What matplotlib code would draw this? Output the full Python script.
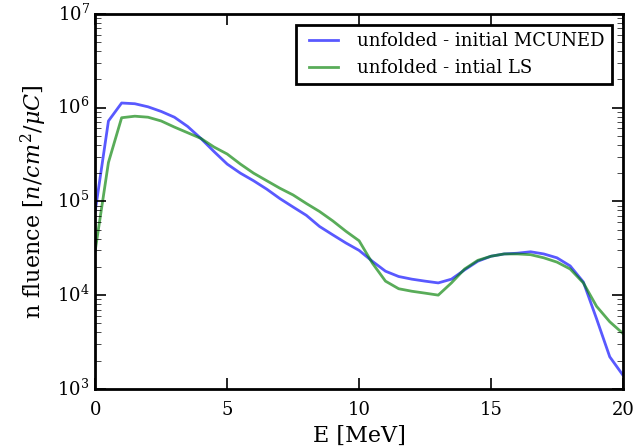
import numpy as np
import matplotlib
matplotlib.use("Agg")
import matplotlib.pyplot as plt

# energy grid (MeV) and fluence
energy = np.arange(0, 20.5, 0.5)

mcuned = [7.9e4, 7.2e5, 1.12e6, 1.10e6, 1.02e6, 9.1e5, 7.9e5, 6.3e5, 4.7e5, 3.4e5,
          2.5e5, 2.0e5, 1.66e5, 1.35e5, 1.07e5, 8.7e4, 7.1e4, 5.4e4, 4.4e4, 3.6e4,
          3.0e4, 2.3e4, 1.8e4, 1.58e4, 1.48e4, 1.41e4, 1.35e4, 1.48e4, 1.86e4, 2.3e4,
          2.6e4, 2.75e4, 2.8e4, 2.9e4, 2.75e4, 2.5e4, 2.05e4, 1.38e4, 5.6e3, 2.2e3,
          1.4e3]

ls = [3.0e4, 2.6e5, 7.8e5, 8.1e5, 7.9e5, 7.2e5, 6.2e5, 5.4e5, 4.7e5, 3.8e5,
      3.2e5, 2.5e5, 2.0e5, 1.66e5, 1.38e5, 1.17e5, 9.5e4, 7.8e4, 6.2e4, 4.8e4,
      3.8e4, 2.2e4, 1.41e4, 1.17e4, 1.10e4, 1.05e4, 1.0e4, 1.35e4, 1.9e4, 2.35e4,
      2.6e4, 2.75e4, 2.75e4, 2.7e4, 2.5e4, 2.25e4, 1.9e4, 1.35e4, 7.6e3, 5.2e3,
      3.9e3]

plt.style.use("classic")
plt.rcParams['font.family'] = ['DejaVu Serif']
plt.rcParams['mathtext.fontset'] = 'dejavuserif'

fig = plt.figure(figsize=(6.35, 4.47), dpi=100, facecolor='white')
ax = fig.add_axes([0.150, 0.130, 0.831, 0.839])

ax.plot(energy, mcuned, color='b', alpha=0.65, lw=2, label='unfolded - initial MCUNED')
ax.plot(energy, ls, color='g', alpha=0.65, lw=2, label='unfolded - intial LS')

ax.set_yscale('log')
ax.set_xlim(0, 20)
ax.set_ylim(1e3, 1e7)
ax.set_xticks([0, 5, 10, 15, 20])
ax.tick_params(labelsize=13, width=1.2)
ax.tick_params(which='major', length=8)
ax.tick_params(which='minor', length=4)
ax.tick_params(axis='x', pad=9)
for s in ax.spines.values():
    s.set_linewidth(2)

ax.set_xlabel('E [MeV]', fontsize=16, labelpad=4)
ax.set_ylabel(r'n fluence $[n/cm^2/\mu C]$', fontsize=16, labelpad=6)

leg = ax.legend(loc='upper right', fontsize=13, borderaxespad=0.6, handlelength=2.2)
leg.get_frame().set_linewidth(2)

fig.savefig('out.png', dpi=100, facecolor='white')
